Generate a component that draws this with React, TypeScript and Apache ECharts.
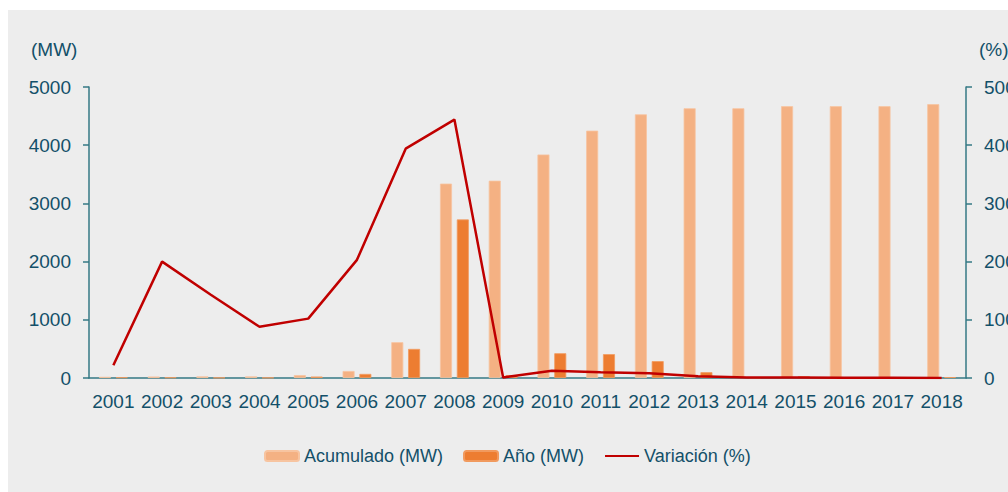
import React, { useEffect, useRef } from "react";
import * as echarts from "echarts";

const years = ["2001","2002","2003","2004","2005","2006","2007","2008","2009","2010","2011","2012","2013","2014","2015","2016","2017","2018"];
const acumulado = [20, 25, 28, 28, 50, 120, 615, 3340, 3390, 3840, 4250, 4530, 4635, 4635, 4670, 4670, 4670, 4705];
const anio = [12, 10, 6, 6, 25, 70, 500, 2724, 50, 425, 410, 290, 100, 8, 30, 6, 6, 15];
const variacion = [22, 200, 143, 88, 102, 203, 394, 444, 1, 12.6, 10, 8, 3, 1, 0.8, 0.5, 0.3, 0.2];

const TEXT = "#135069";
const AXIS = "#357884";
const FONT = "'Liberation Sans', Arial, sans-serif";

export default function App() {
  const ref = useRef<HTMLDivElement>(null);
  useEffect(() => {
    if (!ref.current) return;
    const chart = echarts.init(ref.current, undefined, { renderer: "svg" });
    chart.setOption({
      animation: false,
      backgroundColor: "#ededed",
      textStyle: { fontFamily: FONT },
      grid: { left: 81, right: 42, top: 77, bottom: 114, containLabel: false, outerBoundsMode: "none" },
      legend: {
        left: 256,
        top: 437,
        padding: 0,
        itemWidth: 34,
        itemHeight: 10,
        itemGap: 20,
        textStyle: { color: TEXT, fontSize: 18, fontFamily: FONT },
        data: [
          { name: "Acumulado (MW)" },
          { name: "Año (MW)" },
          { name: "Variación (%)", itemStyle: { opacity: 0 } },
        ],
      },
      graphic: [
        { type: "text", left: 23, top: 30, style: { text: "(MW)", fill: TEXT, font: `19px ${FONT}` } },
        { type: "text", left: 971, top: 30, style: { text: "(%)", fill: TEXT, font: `19px ${FONT}` } },
      ],
      xAxis: {
        type: "category",
        data: years,
        axisLine: { lineStyle: { color: AXIS, width: 1.5 } },
        axisTick: { show: false },
        axisLabel: { color: TEXT, fontSize: 19, margin: 14, interval: 0, fontFamily: FONT },
      },
      yAxis: [
        {
          type: "value",
          min: 0,
          max: 5000,
          interval: 1000,
          axisLine: { show: true, lineStyle: { color: AXIS, width: 1.5 } },
          axisTick: { show: true, length: 6, lineStyle: { color: AXIS, width: 1.5 } },
          splitLine: { show: false },
          axisLabel: { color: TEXT, fontSize: 19, margin: 18, fontFamily: FONT, formatter: (v: number) => String(v) },
        },
        {
          type: "value",
          min: 0,
          max: 500,
          interval: 100,
          position: "right",
          axisLine: { show: true, lineStyle: { color: AXIS, width: 1.5 } },
          axisTick: { show: true, length: 6, lineStyle: { color: AXIS, width: 1.5 } },
          splitLine: { show: false },
          axisLabel: { color: TEXT, fontSize: 19, margin: 18, fontFamily: FONT, formatter: (v: number) => String(v) },
        },
      ],
      series: [
        {
          name: "Acumulado (MW)",
          type: "bar",
          data: acumulado,
          barWidth: 12,
          barGap: "40%",
          itemStyle: { color: "#f4b183", borderColor: "#f7c4a0", borderWidth: 0.8 },
        },
        {
          name: "Año (MW)",
          type: "bar",
          data: anio,
          barWidth: 12,
          barGap: "40%",
          itemStyle: { color: "#ed7d31", borderColor: "#f19a5e", borderWidth: 0.8 },
        },
        {
          name: "Variación (%)",
          type: "line",
          yAxisIndex: 1,
          data: variacion,
          symbol: "none",
          lineStyle: { color: "#c00000", width: 2.5 },
          itemStyle: { color: "#c00000" },
          z: 5,
        },
      ],
    });
    return () => chart.dispose();
  }, []);
  return (
    <div
      ref={ref}
      style={{ position: "absolute", left: 8, top: 10, width: 1000, height: 482, overflow: "hidden" }}
    />
  );
}
